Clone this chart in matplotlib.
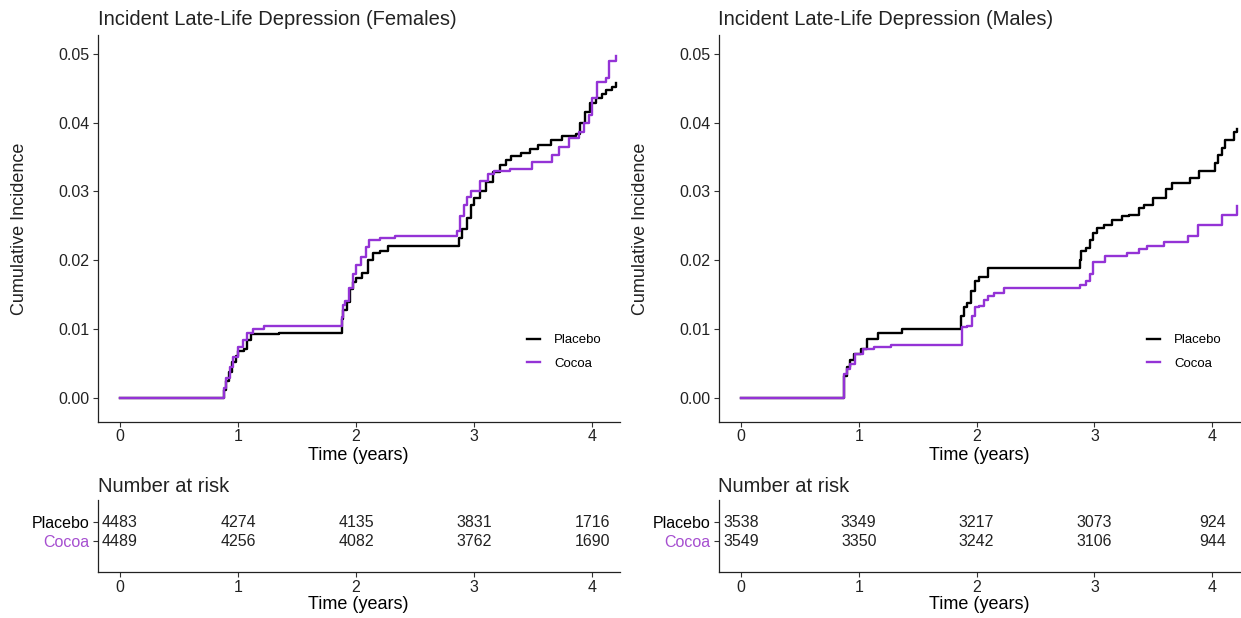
import matplotlib.pyplot as plt
import numpy as np

plt.rcParams['font.family'] = ['Liberation Sans', 'DejaVu Sans']

# ---- data (step curves, steps-post) ----
f_pla_t = [0, 0.88, 0.90, 0.92, 0.95, 0.98, 1.00, 1.05, 1.08, 1.11, 1.35, 1.88, 1.89, 1.92, 1.95,
           1.97, 2.00, 2.05, 2.10, 2.14, 2.20, 2.27, 2.875, 2.90, 2.94, 2.97, 3.00, 3.05, 3.10,
           3.16, 3.22, 3.27, 3.31, 3.40, 3.47, 3.54, 3.65, 3.74, 3.86, 3.90, 3.94, 3.98, 4.03,
           4.08, 4.12, 4.17, 4.20]
f_pla_y = [0, 0.0012, 0.0025, 0.0038, 0.0052, 0.0062, 0.0068, 0.0072, 0.0085, 0.0093, 0.0095, 0.0115,
           0.0128, 0.0140, 0.0158, 0.0168, 0.0175, 0.0182, 0.0200, 0.0211, 0.0214, 0.0221, 0.0232,
           0.0245, 0.0262, 0.0280, 0.0290, 0.0300, 0.0314, 0.0328, 0.0339, 0.0345, 0.0351, 0.0356,
           0.0362, 0.0367, 0.0374, 0.0380, 0.0384, 0.0400, 0.0415, 0.0428, 0.0435, 0.0442, 0.0447,
           0.0452, 0.0457]

f_coc_t = [0, 0.88, 0.90, 0.93, 0.96, 1.00, 1.04, 1.08, 1.13, 1.22, 1.88, 1.89, 1.91, 1.94, 1.97,
           2.00, 2.04, 2.08, 2.11, 2.20, 2.33, 2.855, 2.88, 2.91, 2.94, 2.97, 3.05, 3.12, 3.17,
           3.30, 3.49, 3.66, 3.72, 3.80, 3.89, 3.93, 3.97, 4.00, 4.04, 4.12, 4.14, 4.20]
f_coc_y = [0, 0.0015, 0.0030, 0.0045, 0.0060, 0.0074, 0.0085, 0.0095, 0.0100, 0.0105, 0.0118,
           0.0135, 0.0141, 0.0160, 0.0180, 0.0194, 0.0205, 0.0220, 0.0230, 0.0232, 0.0235, 0.0243,
           0.0264, 0.0280, 0.0292, 0.0300, 0.0315, 0.0325, 0.0329, 0.0333, 0.0343, 0.0353, 0.0365,
           0.0377, 0.0387, 0.0400, 0.0411, 0.0435, 0.0459, 0.0464, 0.0490, 0.0497]

m_pla_t = [0, 0.873, 0.90, 0.93, 0.96, 1.02, 1.07, 1.16, 1.37, 1.87, 1.89, 1.92, 1.95, 1.99, 2.02,
           2.10, 2.875, 2.89, 2.93, 2.96, 2.99, 3.02, 3.08, 3.15, 3.23, 3.29, 3.38, 3.42, 3.50,
           3.61, 3.66, 3.81, 3.89, 4.02, 4.05, 4.08, 4.11, 4.18, 4.21]
m_pla_y = [0, 0.0033, 0.0045, 0.0055, 0.0064, 0.0071, 0.0086, 0.0095, 0.0101, 0.0120, 0.0132,
           0.0138, 0.0155, 0.0170, 0.0176, 0.0189, 0.0200, 0.0213, 0.0218, 0.0230, 0.0240, 0.0247,
           0.0252, 0.0259, 0.0264, 0.0266, 0.0276, 0.0280, 0.0290, 0.0303, 0.0312, 0.0320, 0.0330,
           0.0341, 0.0353, 0.0363, 0.0375, 0.0387, 0.0390]

m_coc_t = [0, 0.875, 0.90, 0.93, 0.97, 1.04, 1.13, 1.27, 1.874, 1.92, 1.96, 1.99, 2.02, 2.06, 2.10,
           2.15, 2.23, 2.875, 2.93, 2.96, 2.99, 3.09, 3.28, 3.38, 3.45, 3.59, 3.79, 3.88, 4.08, 4.21]
m_coc_y = [0, 0.0035, 0.0042, 0.0050, 0.0064, 0.0071, 0.0074, 0.0077, 0.0103, 0.0105, 0.0120,
           0.0132, 0.0134, 0.0142, 0.0148, 0.0152, 0.0160, 0.0165, 0.0170, 0.0180, 0.0197, 0.0206,
           0.0211, 0.0216, 0.0221, 0.0226, 0.0235, 0.0252, 0.0266, 0.0279]

risk_times = [0, 1, 2, 3, 4]
f_risk_pla = [4483, 4274, 4135, 3831, 1716]
f_risk_coc = [4489, 4256, 4082, 3762, 1690]
m_risk_pla = [3538, 3349, 3217, 3073, 924]
m_risk_coc = [3549, 3350, 3242, 3106, 944]

groups = ['Placebo', 'Cocoa']
titles = ['Incident Late-Life Depression (Females)', 'Incident Late-Life Depression (Males)']

BLACK = '#000000'
PURPLE = '#9433D6'
TABLE_PURPLE = '#A64FD0'

W, H = 1241, 618
fig = plt.figure(figsize=(W / 100, H / 100), dpi=100)


def style(ax):
    for s in ['top', 'right']:
        ax.spines[s].set_visible(False)
    for s in ['left', 'bottom']:
        ax.spines[s].set_linewidth(0.9)
        ax.spines[s].set_color('#222222')
    ax.tick_params(length=3.5, width=0.8, color='#333333', labelsize=11.5,
                   labelcolor='#222222', pad=2)


def panel(left_px, right_px, title, pla, coc, risk_pla, risk_coc):
    ax = fig.add_axes([left_px / W, 1 - 421.7 / H, (right_px - left_px) / W, (421.7 - 35) / H])
    ax.plot(pla[0], pla[1], drawstyle='steps-post', color=BLACK, lw=1.7, label=groups[0])
    ax.plot(coc[0], coc[1], drawstyle='steps-post', color=PURPLE, lw=1.7, label=groups[1])
    ax.set_xlim(-0.19, 4.235)
    ax.set_ylim(-0.0034, 0.0527)
    ax.set_xticks(risk_times)
    ax.set_yticks([0, 0.01, 0.02, 0.03, 0.04, 0.05])
    ax.set_yticklabels(['%.2f' % v for v in ax.get_yticks()])
    style(ax)
    ax.set_xlabel('Time (years)', fontsize=13, labelpad=2)
    ax.set_ylabel('Cumulative Incidence', fontsize=13, labelpad=22, color='#222222')
    ax.set_title(title, loc='left', fontsize=14.5, pad=7, color='#222222')
    ax.legend(loc='center left', bbox_to_anchor=(0.822, 0.18), frameon=False, fontsize=9.5,
              handlelength=0.95, handletextpad=1.1, labelspacing=0.85, borderpad=0,
              borderaxespad=0)

    tb = fig.add_axes([left_px / W, 1 - 572 / H, (right_px - left_px) / W, 72 / H])
    for row, vals in zip([2, 1], [risk_pla, risk_coc]):
        for t, n in zip(risk_times, vals):
            tb.text(t, row, str(n), ha='center', va='center', fontsize=11.5, color='#222222')
    tb.set_xlim(-0.19, 4.235)
    tb.set_ylim(-0.63, 3.16)
    tb.set_xticks(risk_times)
    tb.set_yticks([2, 1])
    tb.set_yticklabels(groups)
    style(tb)
    tb.get_yticklabels()[0].set_color(BLACK)
    tb.get_yticklabels()[1].set_color(TABLE_PURPLE)
    tb.set_xlabel('Time (years)', fontsize=13, labelpad=1)
    tb.set_title('Number at risk', loc='left', fontsize=14.5, pad=6, color='#222222')


panel(97.5, 620, titles[0], (f_pla_t, f_pla_y), (f_coc_t, f_coc_y), f_risk_pla, f_risk_coc)
panel(718.5, 1240, titles[1], (m_pla_t, m_pla_y), (m_coc_t, m_coc_y), m_risk_pla, m_risk_coc)

fig.savefig('out.png', dpi=100)
